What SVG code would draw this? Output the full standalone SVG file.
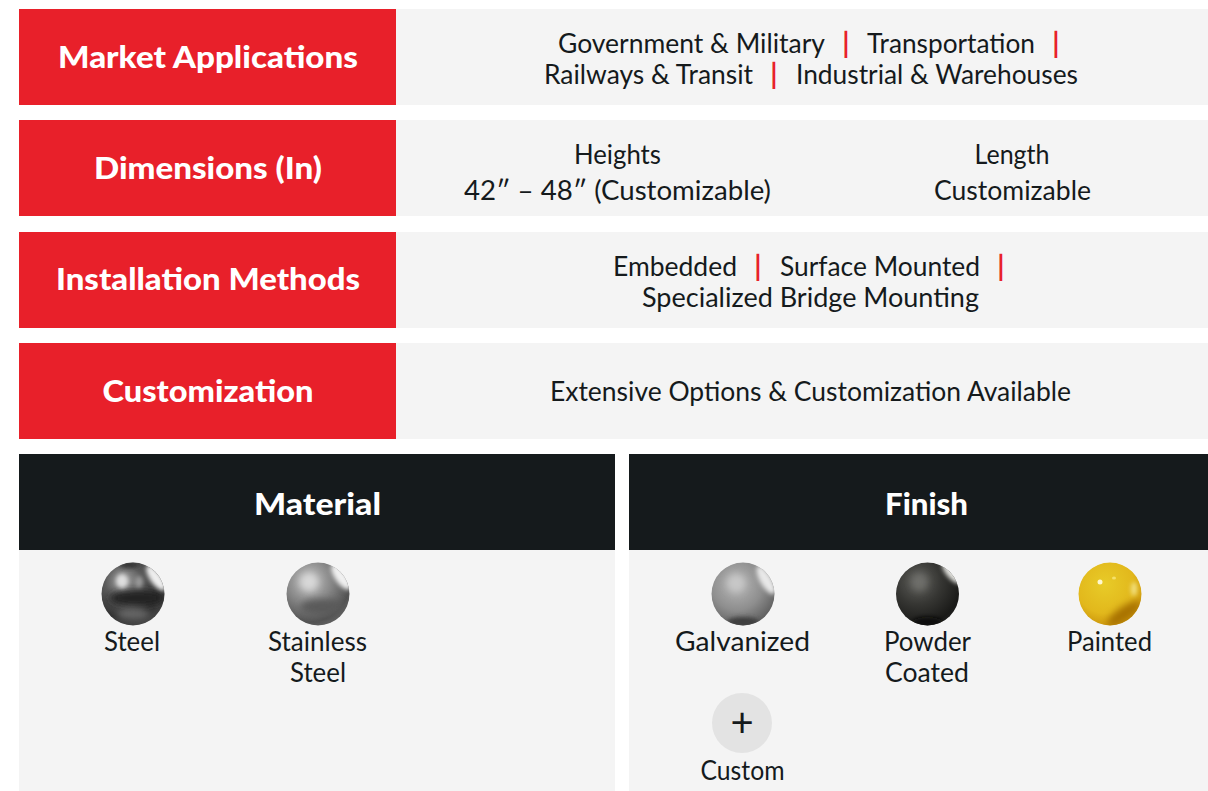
<svg xmlns="http://www.w3.org/2000/svg" width="1208" height="791" viewBox="0 0 1208 791">
<style>
text{font-family:"Lato","Liberation Sans",sans-serif;}
.red{fill:#e8202a}.pale{fill:#f4f4f4}.blk{fill:#151a1c}
.h{font-size:30px;font-weight:900;fill:#fff;text-anchor:middle}
.t{font-size:26px;fill:#151a1c;text-anchor:middle}
.s{font-size:28px;font-weight:700;fill:#e8202a;text-anchor:middle}
</style>
<defs>
<filter id="b3" x="-60%" y="-60%" width="220%" height="220%"><feGaussianBlur stdDeviation="3.500"/></filter>
<filter id="b2" x="-60%" y="-60%" width="220%" height="220%"><feGaussianBlur stdDeviation="2"/></filter>
<radialGradient id="gSteel" cx="0.35" cy="0.3" r="0.8"><stop offset="0" stop-color="#a8a8a8"/><stop offset="0.35" stop-color="#5c5c5c"/><stop offset="0.7" stop-color="#333"/><stop offset="1" stop-color="#4a4a4a"/></radialGradient>
<radialGradient id="gStain" cx="0.36" cy="0.3" r="0.8"><stop offset="0" stop-color="#c4c4c4"/><stop offset="0.45" stop-color="#858585"/><stop offset="0.8" stop-color="#525252"/><stop offset="1" stop-color="#6a6a6a"/></radialGradient>
<radialGradient id="gGalv" cx="0.4" cy="0.35" r="0.8"><stop offset="0" stop-color="#b8b8b8"/><stop offset="0.5" stop-color="#8e8e8e"/><stop offset="0.85" stop-color="#5e5e5e"/><stop offset="1" stop-color="#4a4a4a"/></radialGradient>
<radialGradient id="gPowd" cx="0.35" cy="0.3" r="0.8"><stop offset="0" stop-color="#60605c"/><stop offset="0.45" stop-color="#363633"/><stop offset="0.85" stop-color="#1a1a18"/><stop offset="1" stop-color="#222"/></radialGradient>
<radialGradient id="gPaint" cx="0.42" cy="0.35" r="0.75"><stop offset="0" stop-color="#e8cb28"/><stop offset="0.6" stop-color="#e2b81c"/><stop offset="0.88" stop-color="#cc960c"/><stop offset="1" stop-color="#b27e08"/></radialGradient>
<clipPath id="sph"><circle cx="0" cy="0" r="31.5"/></clipPath>
</defs>

<g id="row-market">
<rect class="red" x="19" y="9" width="377" height="96"/><rect class="pale" x="396" y="9" width="812" height="96"/>
<text class="h" x="208" y="68" textLength="300" lengthAdjust="spacingAndGlyphs">Market Applications</text>
<text class="t" x="691.500" y="53" textLength="267" lengthAdjust="spacingAndGlyphs">Government &amp; Military</text>
<text class="s" x="846" y="53">|</text>
<text class="t" x="951" y="53" textLength="168" lengthAdjust="spacingAndGlyphs">Transportation</text>
<text class="s" x="1056" y="53">|</text>
<text class="t" x="648.500" y="84" textLength="209" lengthAdjust="spacingAndGlyphs">Railways &amp; Transit</text>
<text class="s" x="774" y="84">|</text>
<text class="t" x="937" y="84" textLength="282" lengthAdjust="spacingAndGlyphs">Industrial &amp; Warehouses</text>
</g>

<g id="row-dimensions">
<rect class="red" x="19" y="120" width="377" height="96"/><rect class="pale" x="396" y="120" width="812" height="96"/>
<text class="h" x="208" y="179" textLength="228" lengthAdjust="spacingAndGlyphs">Dimensions (In)</text>
<text class="t" x="617.500" y="164" textLength="87" lengthAdjust="spacingAndGlyphs">Heights</text>
<text class="t" x="617.500" y="200" textLength="307" lengthAdjust="spacingAndGlyphs">42″ – 48″ (Customizable)</text>
<text class="t" x="1012" y="164" textLength="75" lengthAdjust="spacingAndGlyphs">Length</text>
<text class="t" x="1012.500" y="200" textLength="157" lengthAdjust="spacingAndGlyphs">Customizable</text>
</g>

<g id="row-installation">
<rect class="red" x="19" y="232" width="377" height="96"/><rect class="pale" x="396" y="232" width="812" height="96"/>
<text class="h" x="208" y="290" textLength="304" lengthAdjust="spacingAndGlyphs">Installation Methods</text>
<text class="t" x="675" y="276" textLength="124" lengthAdjust="spacingAndGlyphs">Embedded</text>
<text class="s" x="758" y="276">|</text>
<text class="t" x="880" y="276" textLength="200" lengthAdjust="spacingAndGlyphs">Surface Mounted</text>
<text class="s" x="1001" y="276">|</text>
<text class="t" x="810.500" y="307" textLength="337" lengthAdjust="spacingAndGlyphs">Specialized Bridge Mounting</text>
</g>

<g id="row-customization">
<rect class="red" x="19" y="343" width="377" height="96"/><rect class="pale" x="396" y="343" width="812" height="96"/>
<text class="h" x="208" y="402" textLength="211" lengthAdjust="spacingAndGlyphs">Customization</text>
<text class="t" x="810.500" y="401" textLength="521" lengthAdjust="spacingAndGlyphs">Extensive Options &amp; Customization Available</text>
</g>

<g id="panel-material">
<rect class="blk" x="19" y="454" width="596" height="96"/><rect class="pale" x="19" y="550" width="596" height="241"/>
<text class="h" x="317.500" y="515" textLength="127" lengthAdjust="spacingAndGlyphs">Material</text>
</g>

<g id="panel-finish">
<rect class="blk" x="629" y="454" width="579" height="96"/><rect class="pale" x="629" y="550" width="579" height="241"/>
<text class="h" x="926.500" y="515" textLength="83" lengthAdjust="spacingAndGlyphs">Finish</text>
</g>

<g id="item-steel">
<g transform="translate(133,594)" clip-path="url(#sph)">
<circle r="32" fill="url(#gSteel)"/>
<ellipse cx="4" cy="4" rx="28" ry="8" fill="#222" filter="url(#b3)"/>
<ellipse cx="-11" cy="-13" rx="6" ry="7" fill="#dedede" filter="url(#b2)"/>
<ellipse cx="6" cy="-12" rx="4" ry="6" fill="#9a9a9a" filter="url(#b2)"/>
<ellipse cx="-4" cy="-29" rx="10" ry="3" fill="#333" filter="url(#b2)"/>
<ellipse cx="23" cy="-16" rx="6" ry="15" fill="#eee" filter="url(#b2)" transform="rotate(-35 23 -16)"/>
<ellipse cx="0" cy="20" rx="16" ry="6" fill="#666" filter="url(#b3)"/>
</g>
<text class="t" x="132" y="651" textLength="56" lengthAdjust="spacingAndGlyphs">Steel</text>
</g>

<g id="item-stainless">
<g transform="translate(318,594)" clip-path="url(#sph)">
<circle r="32" fill="url(#gStain)"/>
<ellipse cx="-9" cy="-12" rx="9" ry="9" fill="#d8d8d8" filter="url(#b3)"/>
<ellipse cx="23" cy="-17" rx="6" ry="15" fill="#f0f0f0" filter="url(#b2)" transform="rotate(-35 23 -17)"/>
<ellipse cx="4" cy="13" rx="22" ry="8" fill="#5a5a5a" filter="url(#b3)"/>
</g>
<text class="t" x="317.500" y="651" textLength="99" lengthAdjust="spacingAndGlyphs">Stainless</text>
<text class="t" x="318" y="682" textLength="56" lengthAdjust="spacingAndGlyphs">Steel</text>
</g>

<g id="item-galvanized">
<g transform="translate(743,594)" clip-path="url(#sph)">
<circle r="32" fill="url(#gGalv)"/>
<ellipse cx="-7" cy="-11" rx="9" ry="9" fill="#c8c8c8" filter="url(#b3)"/>
<ellipse cx="23" cy="-14" rx="6" ry="16" fill="#e8e8e8" filter="url(#b2)" transform="rotate(-30 23 -14)"/>
<ellipse cx="0" cy="28" rx="16" ry="5" fill="#3c3c3c" filter="url(#b2)"/>
</g>
<text class="t" x="742.500" y="651" textLength="135" lengthAdjust="spacingAndGlyphs">Galvanized</text>
</g>

<g id="item-powder">
<g transform="translate(927.500,594)" clip-path="url(#sph)">
<circle r="32" fill="url(#gPowd)"/>
<ellipse cx="-8" cy="-12" rx="8" ry="9" fill="#6e6e6a" filter="url(#b3)"/>
<ellipse cx="24" cy="-21" rx="5" ry="13" fill="#e4e4e0" filter="url(#b2)" transform="rotate(-40 24 -21)"/>
<ellipse cx="0" cy="28" rx="15" ry="5" fill="#0a0a08" filter="url(#b2)"/>
</g>
<text class="t" x="927.500" y="651" textLength="87" lengthAdjust="spacingAndGlyphs">Powder</text>
<text class="t" x="927" y="682" textLength="84" lengthAdjust="spacingAndGlyphs">Coated</text>
</g>

<g id="item-painted">
<g transform="translate(1110,594)" clip-path="url(#sph)">
<circle r="32" fill="url(#gPaint)"/>
<ellipse cx="14" cy="20" rx="20" ry="7" fill="#a87206" filter="url(#b3)" transform="rotate(-35 14 20)"/>
<circle cx="-10" cy="-12" r="2.500" fill="#fff8d0"/>
<ellipse cx="24" cy="-5" rx="3" ry="7" fill="#f2e080" filter="url(#b2)"/>
<ellipse cx="4" cy="-16" rx="2" ry="1.500" fill="#f5e06a"/>
</g>
<text class="t" x="1109.500" y="651" textLength="85" lengthAdjust="spacingAndGlyphs">Painted</text>
</g>

<g id="item-custom">
<circle cx="742" cy="723" r="30" fill="#e3e3e3"/>
<text class="t" x="742" y="737" style="font-size:40px">+</text>
<text class="t" x="742.500" y="780" textLength="84" lengthAdjust="spacingAndGlyphs">Custom</text>
</g>
</svg>
